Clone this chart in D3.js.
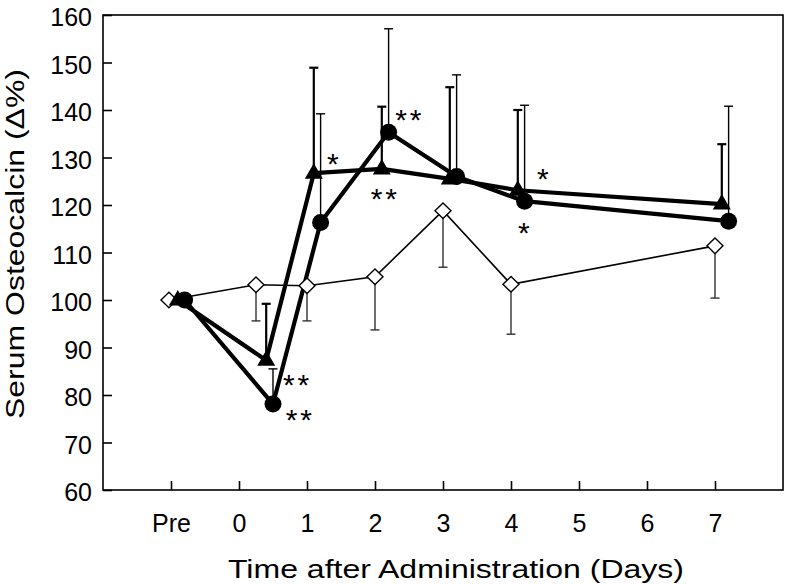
<!DOCTYPE html>
<html>
<head>
<meta charset="utf-8">
<script src="https://cdn.jsdelivr.net/npm/d3@7"></script>
<style>
  html, body { margin: 0; padding: 0; background: #fff; }
  svg { display: block; font-family: "Liberation Sans", Arial, Helvetica, sans-serif; }
</style>
</head>
<body>
<svg id="chart" width="786" height="584"></svg>
<script>
// ---- data ----
const xTickValues = [-1, 0, 1, 2, 3, 4, 5, 6, 7];
const xTickLabels = ["Pre", "0", "1", "2", "3", "4", "5", "6", "7"];
const yTickValues = [60, 70, 80, 90, 100, 110, 120, 130, 140, 150, 160];

// open diamonds (thin line, lower error bars)
const diamondX = [-1.03, 0.25, 1.0, 2.0, 3.0, 4.0, 7.0];
const diamondY = [100, 103.2, 103.0, 104.9, 118.8, 103.3, 111.4];
const diamondErr = [null, 95.6, 95.6, 93.7, 106.9, 92.8, 100.4];

// filled triangles (thick line, upper error bars)
const triangleX = [-0.9, 0.4, 1.1, 2.1, 3.1, 4.1, 7.1];
const triangleY = [100, 87.3, 126.7, 127.6, 125.5, 123.1, 120.2];
const triangleErr = [null, 99.2, 148.9, 140.7, 144.8, 140.0, 132.8];

// filled circles (thick line, upper error bars)
const circleX = [-0.8, 0.5, 1.2, 2.2, 3.2, 4.2, 7.2];
const circleY = [100, 78.1, 116.3, 135.3, 126.0, 120.8, 116.6];
const circleErr = [null, 85.5, 139.2, 157.1, 147.4, 141.0, 140.8];

// significance marks
const markX = [0.84, 0.88, 1.38, 2.49, 2.13, 4.47, 4.19];
const markY = [83.6, 76.3, 130.1, 139.4, 122.7, 126.9, 115.6];
const markText = ["**", "**", "*", "**", "**", "*", "*"];

// ---- layout ----
const svg = d3.select("#chart");
const plotLeft = 103, plotRight = 783, plotTop = 15, plotBottom = 490;
const x = d3.scaleLinear().domain([-2, 8]).range([plotLeft, plotRight]);
const y = d3.scaleLinear().domain([60, 160]).range([plotBottom, plotTop]);

// frame
svg.append("rect")
  .attr("x", plotLeft).attr("y", plotTop)
  .attr("width", plotRight - plotLeft).attr("height", plotBottom - plotTop)
  .attr("fill", "none").attr("stroke", "#000").attr("stroke-width", 1.6);

// axes
const xAxis = d3.axisBottom(x)
  .tickValues(xTickValues)
  .tickFormat((d, i) => xTickLabels[i])
  .tickSizeInner(-9).tickSizeOuter(0).tickPadding(24);
const gx = svg.append("g").attr("transform", `translate(0,${plotBottom})`).call(xAxis);
gx.select(".domain").remove();
gx.selectAll(".tick line").attr("stroke", "#000").attr("stroke-width", 1.6);
gx.selectAll(".tick text").attr("fill", "#000").attr("font-size", 25)
  .attr("font-family", '"Liberation Sans", Arial, sans-serif');

const yAxis = d3.axisLeft(y)
  .tickValues(yTickValues)
  .tickSizeInner(-9).tickSizeOuter(0).tickPadding(11);
const gy = svg.append("g").attr("transform", `translate(${plotLeft},0)`).call(yAxis);
gy.select(".domain").remove();
gy.selectAll(".tick line").attr("stroke", "#000").attr("stroke-width", 1.6);
gy.selectAll(".tick text").attr("fill", "#000").attr("font-size", 25)
  .attr("dy", "0.42em")
  .attr("font-family", '"Liberation Sans", Arial, sans-serif');

// axis titles
svg.append("text")
  .attr("x", 456).attr("y", 578)
  .attr("text-anchor", "middle")
  .attr("font-size", 26)
  .attr("textLength", 456).attr("lengthAdjust", "spacingAndGlyphs")
  .text("Time after Administration (Days)");

svg.append("text")
  .attr("transform", "translate(24,244) rotate(-90)")
  .attr("text-anchor", "middle")
  .attr("font-size", 26)
  .attr("textLength", 350).attr("lengthAdjust", "spacingAndGlyphs")
  .text("Serum Osteocalcin (\u0394%)");

function toPts(xs, ys, es) {
  return xs.map((v, i) => ({ x: v, y: ys[i], e: es[i] }));
}
const diamonds = toPts(diamondX, diamondY, diamondErr);
const triangles = toPts(triangleX, triangleY, triangleErr);
const circles = toPts(circleX, circleY, circleErr);

const line = d3.line().x(d => x(d.x)).y(d => y(d.y));

function errorBars(data, width, color, cap) {
  const g = svg.append("g").attr("stroke", color).attr("stroke-width", width).attr("fill", "none");
  data.filter(d => d.e != null).forEach(d => {
    g.append("line")
      .attr("x1", x(d.x)).attr("x2", x(d.x))
      .attr("y1", y(d.y)).attr("y2", y(d.e));
    g.append("line")
      .attr("x1", x(d.x) - cap / 2).attr("x2", x(d.x) + cap / 2)
      .attr("y1", y(d.e)).attr("y2", y(d.e));
  });
}

// diamond series
errorBars(diamonds, 1.4, "#333", 9);
svg.append("path").datum(diamonds)
  .attr("d", line).attr("fill", "none").attr("stroke", "#000").attr("stroke-width", 1.6);

// triangle and circle error bars
errorBars(triangles, 2.2, "#000", 9);
errorBars(circles, 1.4, "#000", 9);

svg.append("path").datum(triangles)
  .attr("d", line).attr("fill", "none").attr("stroke", "#000").attr("stroke-width", 4.2)
  .attr("stroke-linejoin", "round");
svg.append("path").datum(circles)
  .attr("d", line).attr("fill", "none").attr("stroke", "#000").attr("stroke-width", 4.2)
  .attr("stroke-linejoin", "round");

// markers
svg.append("g").selectAll("path").data(diamonds).join("path")
  .attr("d", d => {
    const cx = x(d.x), cy = y(d.y);
    return `M${cx},${cy - 7.8}L${cx + 8},${cy}L${cx},${cy + 7.8}L${cx - 8},${cy}Z`;
  })
  .attr("fill", "#fff").attr("stroke", "#000").attr("stroke-width", 1.4);

svg.append("g").selectAll("path").data(triangles).join("path")
  .attr("d", d => {
    const cx = x(d.x), cy = y(d.y);
    return `M${cx},${cy - 10}L${cx + 9},${cy + 5.5}L${cx - 9},${cy + 5.5}Z`;
  })
  .attr("fill", "#000");

svg.append("g").selectAll("circle").data(circles).join("circle")
  .attr("cx", d => x(d.x)).attr("cy", d => y(d.y)).attr("r", 8.5)
  .attr("fill", "#000");

// significance asterisks
const marks = markX.map((v, i) => ({ x: v, y: markY[i], t: markText[i] }));
svg.append("g").selectAll("text").data(marks).join("text")
  .attr("x", d => x(d.x) + (d.t.length > 1 ? 1.5 : 0))
  .attr("y", d => y(d.y) + 17)
  .attr("text-anchor", "middle")
  .attr("font-size", 30)
  .attr("letter-spacing", d => d.t.length > 1 ? "3px" : "0px")
  .text(d => d.t);
</script>
</body>
</html>
